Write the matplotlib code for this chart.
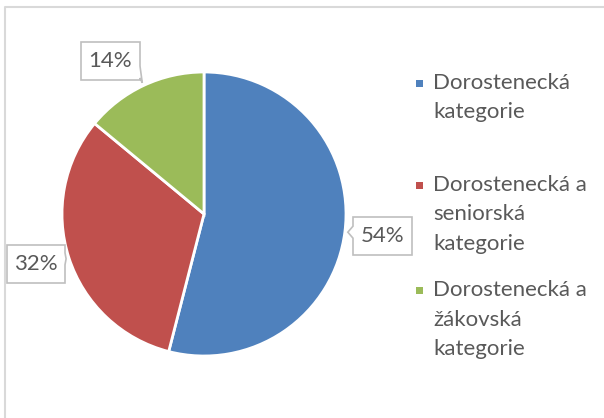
import matplotlib.pyplot as plt
from matplotlib.patches import Polygon, Rectangle
from matplotlib.lines import Line2D
import numpy as np

# Podíl kategorií
kategorie = [
    ["Dorostenecká", "kategorie"],
    ["Dorostenecká a", "seniorská", "kategorie"],
    ["Dorostenecká a", "žákovská", "kategorie"],
]
podily = [54, 32, 14]
barvy = ["#4F81BD", "#C0504D", "#9BBB59"]

W, H = 604, 418
TEXT = "#595959"
FONT = "Lato"
FS = 16


def py(y):
    # pixel y (shora) -> souřadnice osy
    return H - y


fig = plt.figure(figsize=(W / 100, H / 100), dpi=100)
ax = fig.add_axes([0, 0, 1, 1])

cx, cy, r = 204, 214, 142
wedges, _ = ax.pie(podily, colors=barvy, startangle=90, counterclock=False,
                   center=(cx, py(cy)), radius=r,
                   wedgeprops=dict(edgecolor="white", linewidth=2))
ax.set_xlim(0, W)
ax.set_ylim(0, H)
ax.set_aspect("auto")
ax.axis("off")

# rámeček grafu (horní a levá hrana)
ax.add_line(Line2D([5, 5, W], [0, py(7), py(7)], color="#D9D9D9", lw=1.5))


def callout(text, box, tip):
    x0, y0, x1, y1 = box
    tx, ty = tip
    half = 6
    pts = []
    if tx < x0:      # ukazatel vlevo
        c = min(max(ty, y0 + half + 2), y1 - half - 2)
        pts = [(x0, y0), (x1, y0), (x1, y1), (x0, y1), (x0, c + half), (tx, ty), (x0, c - half)]
    elif tx > x1:    # ukazatel vpravo
        c = min(max(ty, y0 + half + 2), y1 - half - 2)
        pts = [(x0, y0), (x1, y0), (x1, c - half), (tx, ty), (x1, c + half), (x1, y1), (x0, y1)]
    else:            # ukazatel dolů
        c = min(max(tx, x0 + half + 2), x1 - half - 2)
        pts = [(x0, y0), (x1, y0), (x1, y1), (c + half, y1), (tx, ty), (c - half, y1), (x0, y1)]
    poly = Polygon([(x, py(y)) for x, y in pts], closed=True,
                   facecolor="white", edgecolor="#BFBFBF", lw=1.2, zorder=5)
    ax.add_patch(poly)
    ax.text((x0 + x1) / 2, py((y0 + y1) / 2), text, ha="center", va="center",
            fontsize=FS, color=TEXT, family=FONT, zorder=6)


boxes = [(353, 217, 412, 255), (7, 245, 65, 283), (81, 42, 140, 80)]
for w, p, box in zip(wedges, podily, boxes):
    mid = np.deg2rad((w.theta1 + w.theta2) / 2)
    tip = (cx + (r + 3) * np.cos(mid), cy - (r + 3) * np.sin(mid))
    callout(f"{p}%", box, tip)

# legenda
starts = [83, 185, 290]
for lines, col, y in zip(kategorie, barvy, starts):
    ax.add_patch(Rectangle((416, py(y + 4)), 7, 7, facecolor=col, edgecolor="none"))
    for i, line in enumerate(lines):
        ax.text(433, py(y + i * 29.5), line, ha="left", va="center",
                fontsize=FS, color=TEXT, family=FONT)

fig.savefig("out.png", dpi=100)
